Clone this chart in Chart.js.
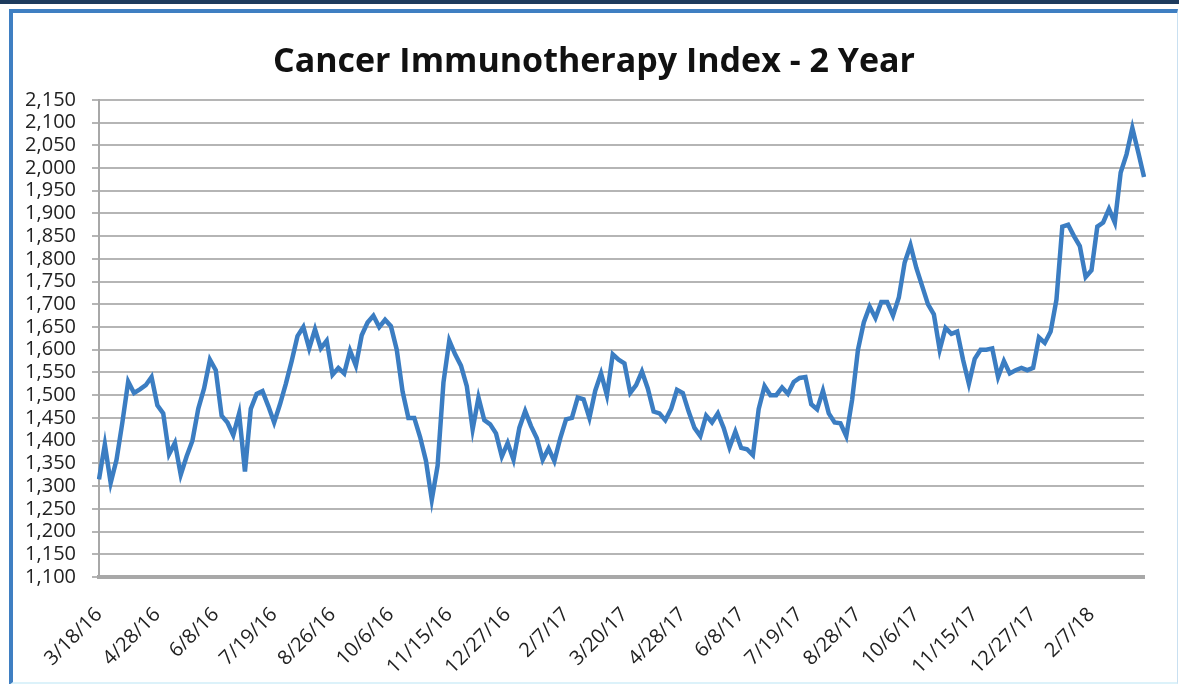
<!DOCTYPE html>
<html>
<head>
<meta charset="utf-8">
<script src="https://cdn.jsdelivr.net/npm/chart.js@4"></script>
<style>
  html, body { margin: 0; padding: 0; background: #fff; }
  #topStrip { position: absolute; left: 0; top: 0; width: 1179px; height: 4px; background: #1d3b5e; }
  #frame { position: absolute; left: 9px; top: 9px; width: 1164px; height: 669px;
           border-left: 4px solid #3f7fc2; border-top: 4px solid #3f7fc2;
           border-right: 1px solid #c9e0f1; border-bottom: 3px solid #dcf2fa; }
  #wrap { position: absolute; left: 0; top: 0; width: 1179px; height: 684px; }
</style>
</head>
<body>
<div id="topStrip"></div>
<div id="frame"></div>
<div id="wrap"><canvas id="chart"></canvas></div>
<script>
// tick dates shown on the x axis, one every 10 samples
const tickDates = ['3/18/16','4/28/16','6/8/16','7/19/16','8/26/16','10/6/16','11/15/16','12/27/16',
  '2/7/17','3/20/17','4/28/17','6/8/17','7/19/17','8/28/17','10/6/17','11/15/17','12/27/17','2/7/18'];
const SAMPLES_PER_TICK = 10;

// index level
const indexValues = [
  1315,1392,1307,1358,1440,1530,1505,1513,1522,1540,
  1478,1460,1370,1395,1325,1365,1400,1470,1515,1578,
  1555,1455,1440,1412,1460,1332,1470,1503,1509,1476,
  1440,1480,1525,1575,1630,1650,1603,1645,1603,1620,
  1545,1560,1548,1598,1565,1632,1660,1675,1650,1666,
  1652,1600,1508,1450,1450,1408,1356,1270,1345,1528,
  1620,1590,1565,1520,1425,1495,1445,1436,1416,1365,
  1395,1358,1428,1465,1432,1405,1358,1383,1355,1405,
  1447,1450,1495,1491,1450,1510,1548,1500,1590,1578,
  1570,1505,1522,1552,1515,1464,1460,1445,1470,1512,
  1505,1464,1428,1410,1455,1440,1460,1428,1385,1420,
  1384,1381,1368,1470,1520,1500,1500,1517,1503,1529,
  1538,1540,1480,1469,1510,1460,1440,1438,1410,1490,
  1600,1660,1695,1670,1705,1705,1675,1715,1792,1830,
  1780,1740,1700,1678,1600,1648,1635,1640,1578,1525,
  1580,1600,1600,1603,1540,1575,1548,1555,1560,1555,
  1560,1627,1615,1640,1710,1871,1875,1850,1828,1760,
  1775,1871,1880,1910,1880,1990,2030,2088,2035,1980
];

const Y_MIN = 1100, Y_MAX = 2150, Y_STEP = 50;

const labels = indexValues.map((v, i) => i % SAMPLES_PER_TICK === 0 ? tickDates[i / SAMPLES_PER_TICK] : '');

const fontFam = '"Open Sans", Lato, sans-serif';

new Chart(document.getElementById('chart'), {
  type: 'line',
  data: {
    labels: labels,
    datasets: [{
      data: indexValues,
      borderColor: '#3b7dc2',
      borderWidth: 4.5,
      pointRadius: 0,
      tension: 0,
      fill: false
    }]
  },
  options: {
    responsive: true,
    maintainAspectRatio: false,
    animation: false,
    layout: { padding: { left: 9, right: 0, top: 20, bottom: 0 } },
    plugins: {
      legend: { display: false },
      tooltip: { enabled: false },
      title: {
        display: true,
        text: 'Cancer Immunotherapy Index - 2 Year',
        color: '#111',
        font: { family: fontFam, size: 34, weight: 'bold' },
        padding: { top: 22, bottom: 17 }
      }
    },
    scales: {
      x: {
        type: 'category',
        offset: false,
        grid: { display: false },
        border: { display: true, color: '#a8a8a8', width: 4, dash: [2, 1] },
        ticks: {
          autoSkip: false,
          maxRotation: 45,
          minRotation: 45,
          padding: 18,
          color: '#222',
          font: { family: fontFam, size: 20 }
        },
        afterFit: s => { s.height = 107; }
      },
      y: {
        min: Y_MIN,
        max: Y_MAX,
        grid: { color: '#b5b5b5', lineWidth: 2, drawTicks: true, tickLength: 7 },
        border: { display: true, color: '#a8a8a8', width: 2 },
        ticks: {
          autoSkip: false,
          stepSize: Y_STEP,
          padding: 16,
          color: '#222',
          font: { family: fontFam, size: 20 },
          callback: v => v.toLocaleString('en-US')
        },
        afterFit: s => { s.width = 90; }
      },
      // empty right-hand spacer so the title centres on the whole frame
      ySpacer: {
        axis: 'y',
        position: 'right',
        min: Y_MIN,
        max: Y_MAX,
        grid: { display: false },
        border: { display: false },
        ticks: { display: false },
        afterFit: s => { s.width = 32; }
      }
    }
  }
});
</script>
</body>
</html>
